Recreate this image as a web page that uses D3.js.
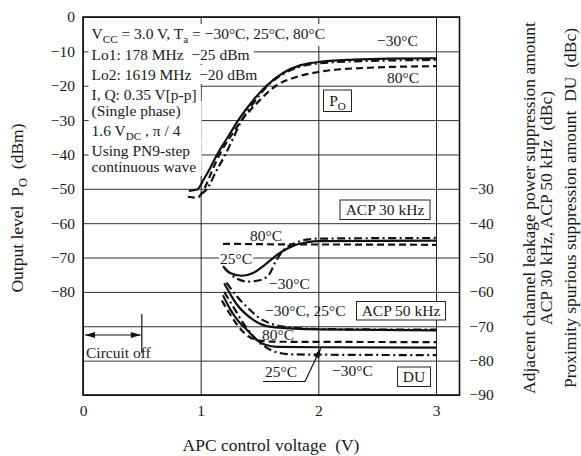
<!DOCTYPE html>
<html>
<head>
<meta charset="utf-8">
<script src="https://cdn.jsdelivr.net/npm/d3@7"></script>
<style>
  body { margin: 0; background: #fff; }
  svg text { font-family: "Liberation Serif", "DejaVu Serif", serif; fill: #1a1a1a; white-space: pre; }
</style>
</head>
<body>
<script>
// APC control voltage (V) vs level
// output power Po (dBm, left axis)
const po25 = [[0.9, -50.6], [0.97, -50.2], [1.03, -47], [1.08, -44], [1.14, -40], [1.23, -35], [1.32, -30],
  [1.44, -24.5], [1.56, -20], [1.7, -16.3], [1.85, -14], [2.0, -13.1], [2.3, -12.4], [2.6, -12.1], [3.0, -12]]
const poM30 = [[1.0, -51.6], [1.05, -50.2], [1.13, -45], [1.21, -40], [1.28, -35], [1.35, -30], [1.45, -25],
  [1.57, -20], [1.7, -16.6], [1.85, -14.4], [2.0, -13.5], [2.4, -12.8], [3.0, -12.5]]
const po80 = [[0.89, -52.3], [0.97, -52.6], [1.03, -50], [1.1, -44.5], [1.16, -40], [1.25, -35], [1.35, -30],
  [1.48, -25], [1.64, -20], [1.8, -17.6], [2.0, -16], [2.4, -14.8], [3.0, -14.3]]

// ACP 30 kHz (dBc, right axis)
const acp30_25 = [[1.19, -52.5], [1.25, -54.5], [1.35, -55.3], [1.45, -54.4], [1.55, -52], [1.67, -48.7],
  [1.8, -46.4], [1.9, -45.6], [2.0, -45.2], [3.0, -45.1]]
const acp30M30 = [[1.2, -53], [1.3, -56], [1.4, -57], [1.5, -56.6], [1.58, -55], [1.64, -51], [1.7, -48],
  [1.8, -45.8], [1.9, -44.8], [2.0, -44.5], [3.0, -44.3]]
const acp30_80 = [[1.19, -46], [1.5, -46.1], [1.8, -46.2], [2.0, -46.2], [3.0, -46.3]]

// ACP 50 kHz (dBc, right axis)
const acp50_25 = [[1.2, -57.5], [1.3, -63.3], [1.45, -68.2], [1.6, -70.2], [1.8, -70.7], [2.0, -70.9], [3.0, -71.2]]
const acp50M30 = [[1.22, -57.3], [1.3, -61], [1.4, -64.6], [1.5, -67.6], [1.6, -69.3], [1.75, -70.3], [2.0, -70.8], [3.0, -71]]

// proximity spurious DU (dBc, right axis)
const du25 = [[1.19, -61], [1.25, -65], [1.32, -68.5], [1.4, -71.3], [1.47, -73.8], [1.55, -75.4], [1.65, -76],
  [2.0, -76.1], [3.0, -76.2]]
const du80 = [[1.18, -62.5], [1.25, -66.5], [1.32, -70], [1.4, -72.8], [1.5, -74.2], [1.65, -74.5], [3.0, -74.6]]
const duM30 = [[1.2, -60], [1.28, -64.5], [1.36, -69], [1.45, -73], [1.55, -76], [1.65, -77.6], [1.8, -78.2], [3.0, -78.4]]

const xTicks = [0, 1, 2, 3]
const leftTicks = [0, -10, -20, -30, -40, -50, -60, -70, -80, -90, -100, -110]
const rightTicks = [-30, -40, -50, -60, -70, -80, -90]
const circuitOff = [0, 0.5]

const conditions = [
  [['V'], ['CC', 1], [' = 3.0 V, T'], ['a', 1], [' = −30°C, 25°C, 80°C']],
  [['Lo1: 178 MHz  −25 dBm']],
  [['Lo2: 1619 MHz  −20 dBm']],
  [['I, Q: 0.35 V[p-p]']],
  [['(Single phase)']],
  [['1.6 V'], ['DC', 1], [' , π / 4']],
  [['Using PN9-step']],
  [['continuous wave']]
]

const width = 581
const height = 456
const fs = 15.5

const x = d3.scaleLinear().domain([0, 3]).range([83, 436])
const yL = d3.scaleLinear().domain([-110, 0]).range([395, 17])
const yR = d3.scaleLinear().domain([-90, 20]).range([395, 17])
const pLeft = x(0)
const pRight = x(3.2)
const pTop = yL(0)
const pBottom = yL(-110)

const svg = d3.select('body').append('svg')
  .attr('width', width)
  .attr('height', height)

function rich (sel, segs, size) {
  segs.forEach(([t, sub], i) => {
    const ts = sel.append('tspan').text(t)
    if (sub) ts.attr('font-size', size * 0.72).attr('dy', 4)
    else if (i > 0 && segs[i - 1][1]) ts.attr('dy', -4)
  })
}

// grid via axes
svg.append('g')
  .attr('transform', `translate(${pLeft},0)`)
  .call(d3.axisLeft(yL).tickValues(leftTicks).tickSize(-(pRight - pLeft)).tickPadding(8)
    .tickFormat(d => d >= -80 ? d3.format('d')(d) : ''))
  .call(g => g.select('.domain').remove())
  .call(g => g.selectAll('line').attr('stroke', '#333').attr('stroke-width', 1))
  .call(g => g.selectAll('text').attr('font-size', fs).style('font-family', '"Liberation Serif", serif').attr('fill', '#1a1a1a'))

svg.append('g')
  .attr('transform', `translate(0,${pBottom})`)
  .call(d3.axisBottom(x).tickValues(xTicks).tickSize(-(pBottom - pTop)).tickPadding(10).tickFormat(d3.format('d')))
  .call(g => g.select('.domain').remove())
  .call(g => g.selectAll('line').attr('stroke', '#222').attr('stroke-width', 1))
  .call(g => g.selectAll('text').attr('font-size', fs).style('font-family', '"Liberation Serif", serif').attr('fill', '#1a1a1a'))

svg.append('g')
  .attr('transform', `translate(${pRight},0)`)
  .call(d3.axisRight(yR).tickValues(rightTicks).tickSize(0).tickPadding(10).tickFormat(d3.format('d')))
  .call(g => g.select('.domain').remove())
  .call(g => g.selectAll('text').attr('font-size', fs).style('font-family', '"Liberation Serif", serif').attr('fill', '#1a1a1a'))

// conditions block, with white backing that hides the grid behind it
const cond = svg.append('g')
const condBg = cond.append('g')
const condBase = [39, 60, 80, 100, 116, 136, 155.5, 172]
conditions.forEach((segs, i) => {
  const t = cond.append('text').attr('x', 91.5).attr('y', condBase[i]).attr('font-size', fs)
  rich(t, segs, fs)
  const b = t.node().getBBox()
  const r = i >= 4 ? Math.max(b.x + b.width + 4, x(1) + 1) : b.x + b.width + 4
  condBg.append('rect').attr('x', b.x - 3).attr('y', b.y - 1)
    .attr('width', r - b.x + 3).attr('height', b.height + 2).attr('fill', '#fff')
})

// frame
svg.append('rect')
  .attr('x', pLeft).attr('y', pTop).attr('width', pRight - pLeft).attr('height', pBottom - pTop)
  .attr('fill', 'none').attr('stroke', '#111').attr('stroke-width', 1.6)

const lineL = d3.line().x(d => x(d[0])).y(d => yL(d[1])).curve(d3.curveMonotoneX)
const lineR = d3.line().x(d => x(d[0])).y(d => yR(d[1])).curve(d3.curveMonotoneX)

const styles = {
  solid: null,
  dash: '7,4',
  dashdot: '8,3.5,2,3.5'
}
const series = [
  { data: po25, gen: lineL, s: 'solid' },
  { data: poM30, gen: lineL, s: 'dashdot' },
  { data: po80, gen: lineL, s: 'dash' },
  { data: acp30_25, gen: lineR, s: 'solid' },
  { data: acp30M30, gen: lineR, s: 'dashdot' },
  { data: acp30_80, gen: lineR, s: 'dash' },
  { data: acp50_25, gen: lineR, s: 'solid' },
  { data: acp50M30, gen: lineR, s: 'dashdot' },
  { data: du25, gen: lineR, s: 'solid' },
  { data: du80, gen: lineR, s: 'dash' },
  { data: duM30, gen: lineR, s: 'dashdot' }
]
svg.append('g').selectAll('path').data(series).join('path')
  .attr('d', d => d.gen(d.data))
  .attr('fill', 'none')
  .attr('stroke', '#111')
  .attr('stroke-width', 2.2)
  .attr('stroke-dasharray', d => styles[d.s])

// temperature labels
const labels = [
  { t: '−30°C', x: 377, y: 46 },
  { t: '80°C', x: 387, y: 83 },
  { t: '80°C', x: 250, y: 240.5 },
  { t: '25°C', x: 220, y: 264, bg: true },
  { t: '−30°C', x: 269, y: 289 },
  { t: '−30°C, 25°C', x: 265, y: 316 },
  { t: '80°C', x: 262, y: 340 },
  { t: '25°C', x: 265, y: 377 },
  { t: '−30°C', x: 332, y: 376 },
  { t: 'Circuit off', x: 86, y: 358 }
]
labels.forEach(l => {
  const t = svg.append('text').attr('x', l.x).attr('y', l.y).attr('font-size', fs).text(l.t)
  if (l.bg) {
    const b = t.node().getBBox()
    svg.insert('rect', () => t.node()).attr('x', b.x - 1).attr('y', b.y + 2)
      .attr('width', b.width + 2).attr('height', b.height - 4).attr('fill', '#fff')
  }
})

// boxed curve-family names
const boxes = [
  { segs: [['P'], ['O', 1]], box: [323.5, 90, 351.5, 111.5] },
  { segs: [['ACP 30 kHz']], box: [340, 200, 430, 219.5] },
  { segs: [['ACP 50 kHz']], box: [356.5, 301.5, 445.5, 320] },
  { segs: [['DU']], box: [397.5, 367, 430.5, 386.5] }
]
boxes.forEach(b => {
  const [x0, y0, x1, y1] = b.box
  svg.append('rect').attr('x', x0).attr('y', y0).attr('width', x1 - x0).attr('height', y1 - y0)
    .attr('fill', '#fff').attr('stroke', '#222').attr('stroke-width', 1)
  const t = svg.append('text').attr('x', (x0 + x1) / 2).attr('y', (y0 + y1) / 2 + 5.5)
    .attr('text-anchor', 'middle').attr('font-size', fs)
  rich(t, b.segs, fs)
})

// arrows
const defs = svg.append('defs')
defs.append('marker').attr('id', 'ah').attr('viewBox', '0 0 10 6').attr('refX', 10).attr('refY', 3)
  .attr('markerWidth', 12).attr('markerHeight', 6).attr('markerUnits', 'userSpaceOnUse').attr('orient', 'auto-start-reverse')
  .append('path').attr('d', 'M0,0L10,3L0,6Z').attr('fill', '#111')

const yOff = 335
svg.append('line')
  .attr('x1', x(circuitOff[0]) + 2).attr('x2', x(circuitOff[1]) - 1)
  .attr('y1', yOff).attr('y2', yOff)
  .attr('stroke', '#111').attr('stroke-width', 1.2)
  .attr('marker-start', 'url(#ah)').attr('marker-end', 'url(#ah)')
svg.append('line')
  .attr('x1', x(circuitOff[1])).attr('x2', x(circuitOff[1]))
  .attr('y1', 314).attr('y2', 353)
  .attr('stroke', '#111').attr('stroke-width', 1.2)

// leader from lower "25°C" to the DU 25°C curve
svg.append('path')
  .attr('d', d3.line()([[263, 381.5], [305, 381.5], [x(2.02), yR(-76.4)]]))
  .attr('fill', 'none').attr('stroke', '#111').attr('stroke-width', 1.2)
  .attr('marker-end', 'url(#ah)')

// axis titles
svg.append('text').attr('x', 271).attr('y', 451).attr('text-anchor', 'middle').attr('font-size', 17.5)
  .text('APC control voltage  (V)')

const yt = svg.append('text').attr('transform', 'translate(23,208) rotate(-90)')
  .attr('text-anchor', 'middle').attr('font-size', 17.5)
rich(yt, [['Output level  P'], ['O', 1], ['  (dBm)']], 17.5)

const rightTitles = [
  { t: 'Adjacent channel leakage power suppression amount', x: 535 },
  { t: 'ACP 30 kHz, ACP 50 kHz  (dBc)', x: 552 },
  { t: 'Proximity spurious suppression amount  DU  (dBc)', x: 576 }
]
rightTitles.forEach(r => {
  svg.append('text').attr('transform', `translate(${r.x},208) rotate(-90)`)
    .attr('text-anchor', 'middle').attr('font-size', 17.5).text(r.t)
})
</script>
</body>
</html>
